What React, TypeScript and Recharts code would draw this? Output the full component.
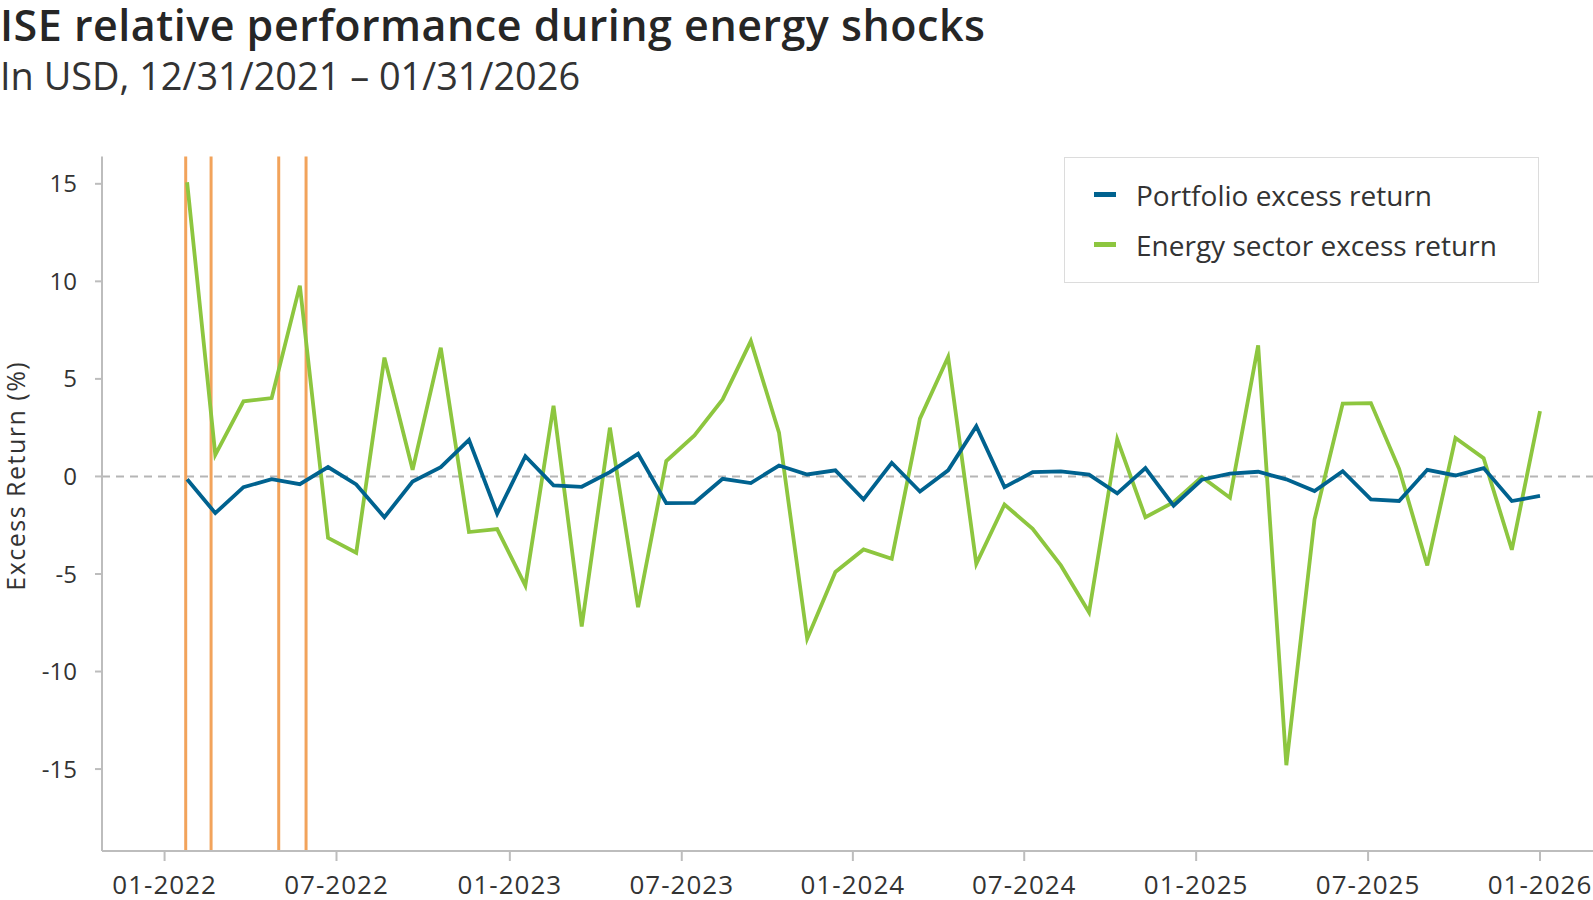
import { LineChart, Line, XAxis, YAxis, ReferenceLine, Legend } from "recharts";

// monthly points, 01-2022 .. 01-2026
const months = [
  "2022-01", "2022-02", "2022-03", "2022-04", "2022-05", "2022-06", "2022-07", "2022-08", "2022-09", "2022-10", "2022-11", "2022-12",
  "2023-01", "2023-02", "2023-03", "2023-04", "2023-05", "2023-06", "2023-07", "2023-08", "2023-09", "2023-10", "2023-11", "2023-12",
  "2024-01", "2024-02", "2024-03", "2024-04", "2024-05", "2024-06", "2024-07", "2024-08", "2024-09", "2024-10", "2024-11", "2024-12",
  "2025-01", "2025-02", "2025-03", "2025-04", "2025-05", "2025-06", "2025-07", "2025-08", "2025-09", "2025-10", "2025-11", "2025-12",
  "2026-01",
];

const portfolioExcess = [
  -0.14, -1.88, -0.55, -0.14, -0.4, 0.48, -0.41, -2.09, -0.26, 0.48, 1.88, -1.91,
  1.04, -0.46, -0.53, 0.22, 1.16, -1.37, -1.35, -0.12, -0.34, 0.56, 0.1, 0.31,
  -1.18, 0.7, -0.77, 0.31, 2.58, -0.55, 0.22, 0.26, 0.09, -0.87, 0.43, -1.5,
  -0.17, 0.14, 0.24, -0.15, -0.75, 0.27, -1.18, -1.26, 0.34, 0.05, 0.43, -1.26,
  -1.0,
];

const energyExcess = [
  15.08, 1.11, 3.85, 4.02, 9.78, -3.15, -3.91, 6.09, 0.34, 6.6, -2.85, -2.7,
  -5.59, 3.62, -7.69, 2.5, -6.7, 0.79, 2.1, 3.95, 6.94, 2.24, -8.32, -4.9,
  -3.74, -4.22, 2.96, 6.12, -4.48, -1.44, -2.68, -4.56, -6.96, 1.9, -2.09, -1.32,
  -0.03, -1.09, 6.72, -14.8, -2.2, 3.73, 3.76, 0.39, -4.56, 1.97, 0.94, -3.76,
  3.35,
];

// x axis ticks, in point-index units
const tickPos = [-0.8, 5.3, 11.45, 17.55, 23.62, 29.7, 35.8, 41.9, 48.0];
const tickLabels = ["01-2022", "07-2022", "01-2023", "07-2023", "01-2024", "07-2024", "01-2025", "07-2025", "01-2026"];
const yTicks = [-15, -10, -5, 0, 5, 10, 15];

// energy shock markers, in point-index units
const shockPos = [-0.05, 0.85, 3.25, 4.22];

const data = months.map((m, i) => ({
  i,
  month: m,
  portfolio: portfolioExcess[i],
  energy: energyExcess[i],
}));

const FONT = "'Open Sans', 'Noto Sans', sans-serif";
const BLUE = "#00628F";
const GREEN = "#8DC63F";
const ORANGE = "#F2A35B";
const GRID = "#BDBDBD";

const legendItems = [
  { label: "Portfolio excess return", color: BLUE },
  { label: "Energy sector excess return", color: GREEN },
];

function LegendBox() {
  return (
    <div
      style={{
        boxSizing: "border-box",
        width: 475,
        height: 126,
        border: "1.5px solid #DCDCDC",
        background: "#fff",
        paddingTop: 12,
        fontFamily: FONT,
      }}
    >
      {legendItems.map((it) => (
        <div
          key={it.label}
          style={{ height: 50, display: "flex", alignItems: "center", paddingLeft: 29 }}
        >
          <span style={{ width: 22, height: 5, background: it.color, display: "inline-block" }} />
          <span style={{ marginLeft: 20, fontSize: 28, color: "#333", lineHeight: "50px" }}>{it.label}</span>
        </div>
      ))}
    </div>
  );
}

export default function App() {
  return (
    <div style={{ position: "absolute", left: 0, top: 0, width: 1593, height: 900, background: "#fff" }}>
      <svg width={1593} height={120} style={{ position: "absolute", left: 0, top: 0 }}>
        <text x={0} y={41} fontFamily={FONT} fontSize={43} fontWeight={600} letterSpacing={0.5} fill="#262626">
          ISE relative performance during energy shocks
        </text>
        <text x={0} y={89.5} fontFamily={FONT} fontSize={37.9} fill="#333">
          In USD, 12/31/2021 – 01/31/2026
        </text>
      </svg>

      <div style={{ position: "absolute", left: 0, top: 0 }}>
        <LineChart
          width={1593}
          height={900}
          data={data}
          margin={{ top: 156.5, right: 0, bottom: 9, left: 22 }}
        >
          <XAxis
            type="number"
            dataKey="i"
            domain={[-3.02, 49.88]}
            ticks={tickPos}
            tickFormatter={(v) => tickLabels[tickPos.indexOf(v)]}
            interval={0}
            height={40}
            stroke={GRID}
            strokeWidth={2}
            tickSize={10}
            tickMargin={15}
            tick={{ fill: "#333", fontSize: 26, fontFamily: FONT, letterSpacing: 1 }}
          />
          <YAxis
            type="number"
            domain={[-19.2, 16.4]}
            ticks={yTicks}
            allowDataOverflow
            width={80}
            stroke={GRID}
            strokeWidth={2}
            tickSize={7}
            tickMargin={18}
            tick={{ fill: "#333", fontSize: 24, fontFamily: FONT }}
            label={(props: any) => {
              const vb = props.viewBox;
              const cx = 15;
              const cy = vb.y + vb.height / 2 - 28;
              return (
                <text
                  x={cx}
                  y={cy}
                  transform={`rotate(-90 ${cx} ${cy})`}
                  textAnchor="middle"
                  dominantBaseline="central"
                  fontFamily={FONT}
                  fontSize={25}
                  letterSpacing={1.5}
                  fill="#333"
                >
                  Excess Return (%)
                </text>
              );
            }}
          />
          <ReferenceLine y={0} stroke="#B5B5B5" strokeWidth={2} strokeDasharray="8 6" />
          {shockPos.map((x) => (
            <ReferenceLine key={x} x={x} stroke={ORANGE} strokeWidth={3} />
          ))}
          <Line
            type="linear"
            dataKey="energy"
            stroke={GREEN}
            strokeWidth={3.8}
            dot={false}
            isAnimationActive={false}
          />
          <Line
            type="linear"
            dataKey="portfolio"
            stroke={BLUE}
            strokeWidth={3.8}
            dot={false}
            isAnimationActive={false}
          />
          <Legend
            layout="vertical"
            align="center"
            verticalAlign="middle"
            wrapperStyle={{ left: 1064, top: 156.5, width: 475, height: 126 }}
            content={() => <LegendBox />}
          />
        </LineChart>
      </div>
    </div>
  );
}
